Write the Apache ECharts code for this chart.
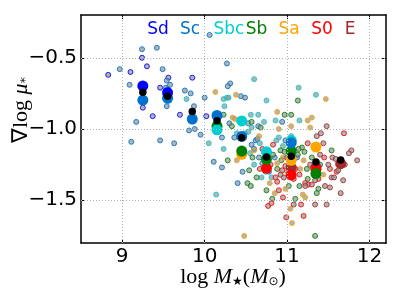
<!DOCTYPE html>
<html><head><meta charset="utf-8">
<script src="https://cdn.jsdelivr.net/npm/echarts@6/dist/echarts.min.js"></script>
<style>html,body{margin:0;padding:0;background:#fff}#c{width:406px;height:304px}</style>
</head><body><div id="c"></div>
<script>
const typeNames = ['Sd','Sc','Sbc','Sb','Sa','S0','E'];
const typeColors = ['#0000ff','#0072ce','#00ced1','#008000','#ffa500','#ff0000','#a52a2a'];

const sdPoints = [[8.83,-0.62],[9.10,-0.60],[9.24,-0.50],[9.30,-0.56],[9.56,-0.64],[9.46,-0.71],[9.85,-0.64],[9.25,-0.85],[9.37,-0.91],[9.70,-0.90],[10.02,-0.91],[9.55,-0.72]];
const scPoints = [[8.97,-0.58],[9.24,-0.44],[9.42,-0.43],[9.49,-0.58],[9.54,-0.66],[9.58,-0.69],[9.09,-0.69],[9.53,-0.71],[9.76,-0.73],[9.83,-0.75],[9.54,-0.84],[9.17,-0.95],[9.87,-0.84],[10.00,-0.78],[10.06,-0.34],[10.27,-0.54],[10.31,-0.68],[10.28,-0.70],[10.44,-0.77],[10.49,-0.78],[9.11,-1.09],[9.46,-1.08],[9.63,-1.10],[9.81,-1.01],[9.88,-1.00],[9.95,-1.04],[10.11,-1.23],[10.21,-1.27],[10.21,-1.06],[10.36,-1.06],[10.46,-1.30],[10.40,-1.38],[10.57,-1.11],[10.62,-1.08],[10.94,-0.95],[10.30,-0.96],[10.53,-0.96],[10.65,-0.98],[10.64,-1.07],[10.70,-1.24],[10.85,-1.20],[10.98,-1.08],[11.12,-1.20],[10.66,-1.20],[10.78,-1.30],[9.57,-0.80],[10.60,-1.14]];
const sbcPoints = [[9.78,-0.79],[10.23,-0.79],[10.27,-0.78],[10.29,-0.78],[10.24,-0.84],[10.60,-0.65],[10.75,-0.80],[10.05,-1.10],[10.23,-1.14],[10.14,-1.46],[10.56,-0.90],[10.65,-0.90],[10.86,-0.94],[10.87,-1.08],[11.14,-0.71],[11.35,-0.76],[11.15,-0.94],[10.81,-1.34],[10.72,-0.95],[10.39,-1.03],[10.49,-1.03],[10.53,-1.02],[10.67,-1.10],[10.57,-0.99],[10.55,-1.17],[10.69,-1.34],[10.90,-1.06],[10.60,-1.25],[10.74,-1.30],[10.95,-1.12],[11.05,-1.05]];
const sbPoints = [[10.23,-0.90],[10.57,-0.95],[10.97,-0.90],[11.05,-0.90],[11.13,-0.80],[10.28,-1.22],[10.54,-1.29],[10.52,-1.38],[10.56,-1.40],[10.75,-1.43],[10.82,-1.49],[11.10,-1.49],[11.38,-1.42],[11.36,-1.45],[11.34,-1.75],[11.54,-1.15],[11.18,-1.13],[11.21,-1.16],[11.14,-1.14],[11.13,-1.18],[10.17,-0.97],[10.33,-0.98],[10.68,-0.99],[10.83,-1.18],[10.92,-1.15],[10.97,-1.16],[10.63,-1.34],[10.93,-1.22],[10.88,-1.28],[11.24,-1.28],[11.30,-1.20],[11.40,-1.25],[11.25,-1.35],[10.58,-1.20],[11.02,-1.40],[11.15,-1.40]];
const saPoints = [[10.13,-0.74],[10.38,-0.76],[10.37,-0.93],[10.88,-0.88],[11.25,-0.94],[11.30,-0.92],[11.05,-0.98],[11.28,-0.99],[11.47,-0.79],[10.39,-1.22],[10.85,-1.45],[10.79,-1.38],[11.44,-1.32],[11.19,-1.46],[11.22,-1.48],[11.06,-1.66],[10.48,-1.75],[10.34,-0.92],[10.90,-1.00],[10.95,-1.20],[11.00,-1.30],[10.60,-1.15],[11.20,-1.22],[11.16,-1.28],[10.72,-1.28],[10.98,-1.42],[11.04,-1.56],[10.66,-1.05],[10.88,-1.24]];
const s0Points = [[10.83,-1.11],[10.90,-1.43],[10.88,-1.37],[10.77,-1.54],[10.81,-1.52],[10.99,-1.62],[11.22,-1.38],[11.26,-1.39],[11.30,-1.39],[11.17,-1.53],[11.20,-1.61],[11.69,-1.03],[10.67,-1.28],[10.72,-1.28],[10.86,-1.34],[10.94,-1.29],[10.98,-1.26],[10.70,-1.14],[11.10,-1.28],[11.25,-1.10],[11.38,-1.35],[11.45,-1.20],[11.52,-1.28],[11.08,-1.35],[10.95,-1.48],[11.15,-1.32],[10.80,-1.25],[11.60,-1.30]];
const ePoints = [[11.48,-0.98],[11.41,-1.03],[11.78,-1.15],[11.75,-1.17],[11.85,-1.22],[11.55,-1.20],[11.59,-1.21],[11.54,-1.34],[11.57,-1.34],[11.62,-1.29],[11.68,-1.36],[11.52,-1.41],[11.08,-1.53],[11.34,-1.53],[11.48,-1.53],[10.96,-1.34],[10.92,-1.32],[11.34,-1.36],[11.44,-1.10],[11.40,-1.18],[11.28,-1.25],[11.70,-1.25],[11.50,-1.25],[11.22,-1.40],[11.36,-1.05],[11.00,-1.20],[11.65,-1.45],[11.46,-1.40]];

const massBins = [9.25, 9.55, 9.85, 10.15, 10.45, 10.75, 11.05, 11.35, 11.65];
const allMean = [-0.742, -0.770, -0.877, -0.942, -1.062, -1.197, -1.192, -1.232, -1.218];
const sdMean  = [-0.698, -0.745, null, null, null, null, null, null, null];
const scMean  = [-0.798, -0.784, -0.930, -0.905, -1.052, null, -1.097, null, null];
const sbcMean = [null, null, null, -1.006, -0.943, -1.160, -1.080, null, null];
const sbMean  = [null, null, null, -0.980, -1.155, -1.213, -1.155, -1.313, null];
const saMean  = [null, null, null, null, -1.178, null, -1.220, -1.127, null];
const s0Mean  = [null, null, null, null, null, -1.276, -1.322, -1.283, null];
const eMean   = [null, null, null, null, null, null, -1.271, -1.270, -1.243];

const xTicks = [9, 10, 11, 12];
const yTicks = [-1.5, -1.0, -0.5];

const smallSets = [sdPoints, scPoints, sbcPoints, sbPoints, saPoints, s0Points, ePoints];
const meanSets = [sdMean, scMean, sbcMean, sbMean, saMean, s0Mean, eMean];

const chart = echarts.init(document.getElementById('c'), null, {renderer:'canvas'});
const series = [];
smallSets.forEach((pts, i) => {
  series.push({type:'scatter', name:typeNames[i]+'_pts', data:pts, symbolSize:5, z:2,
    itemStyle:{color:'rgba(150,150,150,0.85)', borderColor:typeColors[i], borderWidth:1, opacity:0.85}, silent:true});
});
const bigOrder = [6,5,4,3,2,1,0];
bigOrder.forEach(i => {
  const d = massBins.map((x,k) => meanSets[i][k] == null ? null : [x, meanSets[i][k]]).filter(p => p);
  series.push({type:'scatter', name:typeNames[i], data:d, symbolSize:11, z:3,
    itemStyle:{color:typeColors[i], opacity:1}, silent:true});
});
series.push({type:'scatter', name:'all', data:massBins.map((x,k)=>[x, allMean[k]]), symbolSize:7.5, z:4,
  itemStyle:{color:'#000', opacity:1}, silent:true});

const gridLine = {show:true, lineStyle:{color:'#b0b0b0', type:[1,2], width:1}};
const labelFont = {fontFamily:'DejaVu Sans', fontSize:20, color:'#000'};

const legendXs = [158, 190, 229, 256.5, 289, 322, 350];
const graphics = typeNames.map((t,i) => ({type:'text', left:null, x:legendXs[i], y:30,
  style:{text:t, fill:typeColors[i], font:'17px "DejaVu Sans"', textAlign:'center', textVerticalAlign:'middle'}}));

graphics.push({type:'text', x:233, y:276, style:{
  text:'{n|log }{i|M}{s|★}{n|(}{i|M}{s|⊙}{n|)}', textAlign:'center', textVerticalAlign:'middle',
  rich:{n:{fontFamily:'Liberation Serif', fontSize:22, fill:'#000', verticalAlign:'bottom', lineHeight:24},
        i:{fontFamily:'Liberation Serif', fontStyle:'italic', fontSize:22, fill:'#000', verticalAlign:'bottom', lineHeight:24},
        s:{fontFamily:'DejaVu Sans', fontSize:12, fill:'#000', verticalAlign:'bottom', lineHeight:18, padding:[0,0,0,0]}}
}});
graphics.push({type:'text', x:20, y:110, rotation:Math.PI/2, style:{
  text:'{n|∇log }{i|μ}{s|*}', textAlign:'center', textVerticalAlign:'middle',
  rich:{n:{fontFamily:'Liberation Serif', fontSize:22, fill:'#000', verticalAlign:'bottom', lineHeight:24},
        i:{fontFamily:'Liberation Serif', fontStyle:'italic', fontSize:22, fill:'#000', verticalAlign:'bottom', lineHeight:24},
        s:{fontFamily:'DejaVu Sans', fontSize:13, fill:'#000', verticalAlign:'bottom', lineHeight:18}}
}});

chart.setOption({
  animation:false,
  backgroundColor:'#fff',
  grid:{left:81, right:20, top:15, bottom:61, containLabel:false},
  xAxis:[{type:'value', min:8.5, max:12.2, interval:0.5, position:'bottom',
    axisLine:{show:true, lineStyle:{color:'#000', width:1.5}},
    axisTick:{show:true, inside:true, length:4, lineStyle:{color:'#000'}, customValues:xTicks},
    axisLabel:Object.assign({margin:4, customValues:xTicks, formatter:v=>String(v)}, labelFont),
    splitLine:Object.assign({}, gridLine), showMinLabel:false, showMaxLabel:false},
   {type:'value', min:8.5, max:12.2, position:'top',
    axisLine:{show:true, lineStyle:{color:'#000', width:1.5}},
    axisTick:{show:true, inside:true, length:4, lineStyle:{color:'#000'}, customValues:xTicks},
    axisLabel:{show:false}, splitLine:{show:false}}],
  yAxis:[{type:'value', min:-1.8, max:-0.2, position:'left',
    axisLine:{show:true, lineStyle:{color:'#000', width:1.5}},
    axisTick:{show:true, inside:true, length:4, lineStyle:{color:'#000'}, customValues:yTicks},
    axisLabel:Object.assign({margin:4, customValues:yTicks, formatter:v=>v.toFixed(1).replace('-','−')}, labelFont),
    splitLine:{show:false}},
   {type:'value', min:-1.8, max:-0.2, position:'right',
    axisLine:{show:true, lineStyle:{color:'#000', width:1.5}},
    axisTick:{show:true, inside:true, length:4, lineStyle:{color:'#000'}, customValues:yTicks},
    axisLabel:{show:false}, splitLine:{show:false}}],
  series: series,
  graphic: graphics
});

// dotted grid lines at tick values via markLine on an extra series
chart.setOption({series: series.concat([{type:'scatter', data:[], z:1, silent:true,
  markLine:{silent:true, symbol:'none', label:{show:false}, animation:false,
    lineStyle:{color:'#b0b0b0', type:[1,2], width:1},
    data: xTicks.map(v=>({xAxis:v})).concat(yTicks.map(v=>({yAxis:v})))}}])});
chart.setOption({xAxis:[{splitLine:{show:false}}, {}]});
</script></body></html>
